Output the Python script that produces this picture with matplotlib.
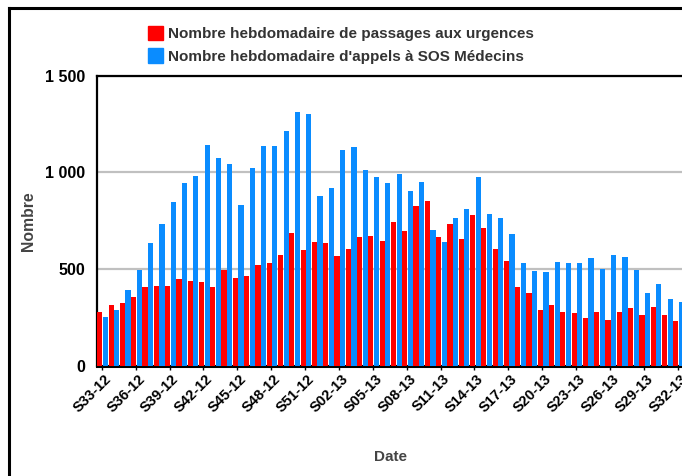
import numpy as np
import matplotlib
matplotlib.use("Agg")
from matplotlib import pyplot as plt
from matplotlib.lines import Line2D
from matplotlib.patches import Patch
import matplotlib.transforms as mtransforms

# Weekly counts, S33-12 .. S32-13
urgences = [280, 314, 326, 357, 409, 412, 414, 448, 440, 435,
            409, 497, 454, 466, 522, 533, 574, 686, 600, 641,
            635, 569, 605, 667, 672, 646, 744, 698, 826, 851,
            667, 734, 655, 780, 713, 603, 541, 409, 378, 290,
            316, 280, 275, 249, 280, 239, 280, 299, 265, 304,
            265, 235]
sos = [254, 290, 392, 497, 636, 732, 847, 945, 981, 1144,
       1074, 1043, 832, 1022, 1136, 1139, 1213, 1314, 1301, 878,
       918, 1115, 1131, 1012, 976, 945, 991, 902, 950, 701,
       641, 765, 811, 976, 785, 765, 682, 533, 491, 485,
       538, 533, 533, 558, 502, 574, 564, 497, 378, 424,
       347, 330]
tick_labels = ["S33-12", "S36-12", "S39-12", "S42-12", "S45-12", "S48-12",
               "S51-12", "S02-13", "S05-13", "S08-13", "S11-13", "S14-13",
               "S17-13", "S20-13", "S23-13", "S26-13", "S29-13", "S32-13"]
y_ticks = [0, 500, 1000, 1500]
y_tick_labels = ["0", "500", "1 000", "1 500"]

RED = "#ff0000"
BLUE = "#0a8cff"

plt.rcParams["font.family"] = ["Liberation Sans", "DejaVu Sans"]
plt.rcParams["font.weight"] = "bold"

fig = plt.figure(figsize=(6.82, 4.76), dpi=100)
W, H = 682, 476
ax = fig.add_axes([96.7 / W, 1 - 366 / H, 1 - 96.7 / W, (366 - 75.7) / H])

x = np.arange(len(urgences))
ax.bar(x - 0.40, urgences, width=0.46, align="edge", color=RED, zorder=3)
ax.bar(x + 0.10, sos, width=0.46, align="edge", color=BLUE, zorder=3)

ax.set_xlim(-0.45, 51.38)
ax.set_ylim(0, 1500)

ax.set_yticks(y_ticks)
ax.set_yticklabels(y_tick_labels, fontsize=11.5, fontweight="bold")
ax.tick_params(axis="y", length=0, pad=8)
ax.yaxis.grid(True, color="#c0c0c0", linewidth=1.6, zorder=1)
ax.set_axisbelow(True)

ax.set_xticks(x[::3])
ax.set_xticklabels(tick_labels, rotation=45, ha="right", va="center",
                   rotation_mode="anchor", fontsize=10.5, fontweight="bold")
ax.tick_params(axis="x", length=3, width=1, direction="out", pad=2)
offset = mtransforms.ScaledTranslation(7 / 100, -4 / 100, fig.dpi_scale_trans)
for lab in ax.get_xticklabels():
    lab.set_transform(lab.get_transform() + offset)

for side in ["left", "top"]:
    ax.spines[side].set_linewidth(1.6)
ax.spines["bottom"].set_linewidth(2.2)
ax.spines["right"].set_visible(False)

fig.text(28 / W, 1 - 221 / H, "Nombre", rotation=90, ha="center", va="center",
         fontsize=11.3, fontweight="bold", color="#444444")
fig.text(390 / W, 1 - 457 / H, "Date", ha="center", va="center",
         fontsize=11, fontweight="bold", color="#444444")

handles = [Patch(color=RED), Patch(color=BLUE)]
labels = ["Nombre hebdomadaire de passages aux urgences",
          "Nombre hebdomadaire d'appels à SOS Médecins"]
fig.legend(handles, labels, loc="upper left", bbox_to_anchor=(134 / W, 1 - 12 / H),
           frameon=False, handlelength=1.0, handleheight=1.1,
           handletextpad=0.35, labelspacing=0.45, labelcolor="#333333",
           prop={"weight": "bold", "size": 11})

# outer frame of the original figure
fig.add_artist(Line2D([9 / W, 1], [1 - 8 / H, 1 - 8 / H], color="black", lw=2.2,
                      transform=fig.transFigure))
fig.add_artist(Line2D([9 / W, 9 / W], [0, 1 - 8 / H], color="black", lw=2.2,
                      transform=fig.transFigure))

fig.savefig("out.png", dpi=100)
